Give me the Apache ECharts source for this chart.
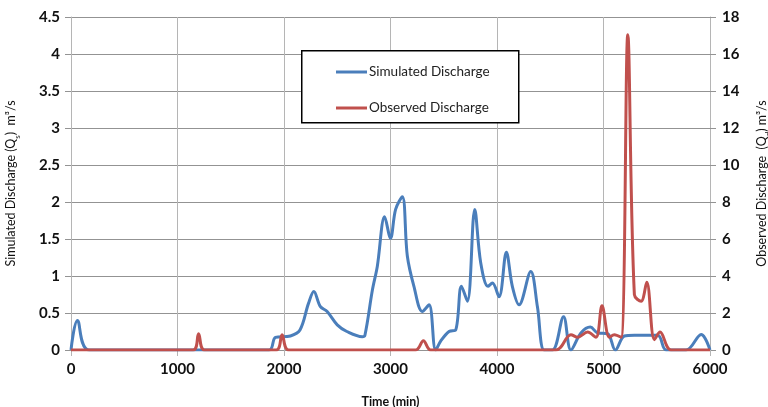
<!DOCTYPE html>
<html>
<head>
<meta charset="utf-8">
<script src="https://cdn.jsdelivr.net/npm/echarts@6/dist/echarts.min.js"></script>
<style>html,body{margin:0;padding:0;background:#fff}#c{width:768px;height:407px}</style>
</head>
<body>
<div id="c"></div>
<script>
const simTime = [0,60,170,1860,1920,2060,2150,2230,2280,2340,2405,2500,2590,2735,2760,2830,2876,2945,3000,3048,3111,3158,3220,3299,3362,3424,3471,3550,3612,3666,3722,3791,3847,3916,3957,4019,4088,4144,4207,4317,4380,4443,4521,4625,4694,4788,4876,4945,5039,5111,5196,5290,5509,5588,5776,5917,6000];
const simQ = [0,0.40,0,0,0.17,0.19,0.27,0.63,0.79,0.59,0.52,0.34,0.25,0.18,0.2,0.81,1.13,1.80,1.51,1.90,2.07,1.27,0.86,0.52,0.61,0,0.12,0.25,0.27,0.86,0.66,1.90,1.18,0.86,0.905,0.72,1.32,0.86,0.61,1.06,0.58,0,0,0.45,0,0.23,0.31,0.23,0.22,0,0.19,0.2,0.2,0,0,0.21,0];
const obsTime = [0,1146,1198,1253,1928,1982,2043,3237,3309,3378,4553,4694,4757,4851,4929,4986,5055,5102,5165,5228,5290,5353,5406,5478,5531,5635,6000];
const obsQ = [0,0,0.88,0,0,0.83,0,0,0.5,0,0,0.83,0.69,0.97,0.69,2.39,0.69,0.83,0.69,17.04,2.99,2.63,3.66,0.56,0.97,0,0];
const xTicks = [0,1000,2000,3000,4000,5000,6000];

const FONT = 'Lato';
const chart = echarts.init(document.getElementById('c'));
const pairs = (xs, ys) => xs.map((x, i) => [x, ys[i]]);
const gridColor = '#939393';
const nameRich = {
  a: {fontFamily: FONT, fontSize: 12.5, color: '#111', lineHeight: 16},
  s: {fontFamily: FONT, fontSize: 8, color: '#111', lineHeight: 16, verticalAlign: 'bottom', padding: [0,0,-2,0]}
};

chart.setOption({
  animation: false,
  grid: {left: 71, right: 58, top: 17, bottom: 57, outerBoundsMode: 'none', containLabel: false},
  graphic: [{
    type: 'rect', z: 3, left: 301, top: 50,
    shape: {width: 217, height: 72},
    style: {fill: '#fff', stroke: '#000', lineWidth: 1.5}
  }],
  legend: {
    z: 10, left: 331, top: 59, orient: 'vertical',
    icon: 'rect', itemWidth: 31, itemHeight: 3, itemGap: 20,
    textStyle: {fontFamily: FONT, fontSize: 13.5, color: '#222', lineHeight: 16, padding: [0,0,0,-3]},
    data: ['Simulated Discharge', 'Observed Discharge']
  },
  xAxis: {
    type: 'value', min: 0, max: 6000, interval: 1000,
    name: 'Time (min)', nameLocation: 'middle', nameGap: 45,
    nameTextStyle: {fontFamily: FONT, fontSize: 12.5, fontWeight: 'bold', color: '#111'},
    axisLine: {show: true, lineStyle: {color: gridColor}},
    axisTick: {show: true, length: 6, lineStyle: {color: '#b5b5b5'}},
    splitLine: {show: true, lineStyle: {color: '#b5b5b5'}},
    axisLabel: {fontFamily: FONT, fontSize: 15, fontWeight: 'bold', color: '#111', margin: 12,
      formatter: v => xTicks.includes(v) ? String(v) : ''}
  },
  yAxis: [{
    type: 'value', min: 0, max: 4.5, interval: 0.5, position: 'left',
    name: '{a|Simulated Discharge (Q}{s|s}{a|)  m³/s}', nameLocation: 'middle', nameGap: 52,
    nameTextStyle: {rich: nameRich},
    axisLine: {show: true, lineStyle: {color: '#b5b5b5'}},
    axisTick: {show: true, length: 6, lineStyle: {color: gridColor}},
    splitLine: {show: true, lineStyle: {color: gridColor}},
    axisLabel: {fontFamily: FONT, fontSize: 15, fontWeight: 'bold', color: '#111', margin: 11}
  }, {
    type: 'value', min: 0, max: 18, interval: 2, position: 'right',
    name: '{a|Observed Discharge  (Q}{s|d}{a|) m³/s}', nameLocation: 'middle', nameGap: 44,
    nameTextStyle: {rich: nameRich},
    axisLine: {show: true, lineStyle: {color: '#b5b5b5'}},
    axisTick: {show: true, length: 6, lineStyle: {color: gridColor}},
    splitLine: {show: false},
    axisLabel: {fontFamily: FONT, fontSize: 15, fontWeight: 'bold', color: '#111', margin: 12}
  }],
  series: [{
    name: 'Simulated Discharge', type: 'line', yAxisIndex: 0,
    data: pairs(simTime, simQ), smooth: 0.35, symbol: 'none',
    lineStyle: {color: '#4a7ebb', width: 3}, itemStyle: {color: '#4a7ebb'}
  }, {
    name: 'Observed Discharge', type: 'line', yAxisIndex: 1,
    data: pairs(obsTime, obsQ), smooth: 0.35, symbol: 'none',
    lineStyle: {color: '#c0504d', width: 3}, itemStyle: {color: '#c0504d'}
  }]
});
</script>
</body>
</html>
